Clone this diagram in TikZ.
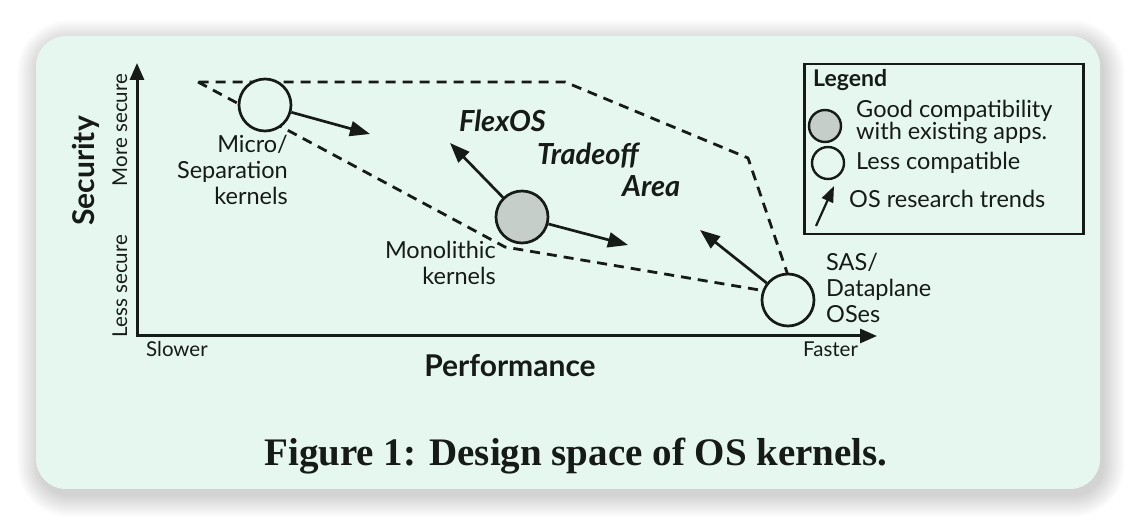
\documentclass[tikz,border=0pt]{standalone}
\usepackage{fontspec}
\setmainfont{Lato}
\newfontfamily\capfont{Liberation Serif}
\usetikzlibrary{arrows.meta}
\definecolor{panel}{HTML}{E6F7EF}
\definecolor{ink}{HTML}{161B18}
\definecolor{gfill}{HTML}{C5CEC8}
\begin{document}
\begin{tikzpicture}[x=1pt,y=-1pt,
  every node/.style={inner sep=0pt, text=ink},
  small/.style={font=\fontsize{20.5}{24}\selectfont},
  mid/.style={font=\fontsize{23.5}{26}\selectfont},
  leg/.style={font=\fontsize{23.5}{20}\selectfont},
  big/.style={font=\fontsize{30}{34}\selectfont\bfseries},
  area/.style={font=\fontsize{29}{32}\selectfont\bfseries\itshape},
  kernel/.style={circle, draw=ink, line width=2.7pt, minimum size=52pt, fill=panel},
  compat/.style={kernel, fill=gfill},
  legcircle/.style={circle, draw=ink, line width=2.4pt, minimum size=32pt, fill=panel},
  region/.style={draw=ink, line width=2.8pt, dash pattern=on 10pt off 7pt},
  axisline/.style={draw=ink, line width=3pt, {Triangle[length=17pt,width=14pt]}-{Triangle[length=17pt,width=14pt]}},
  trend/.style={draw=ink, line width=2.7pt, -{Triangle[length=20pt,width=15pt]}},
  legtrend/.style={draw=ink, line width=2.2pt, -{Triangle[length=16pt,width=12pt]}},
]
\useasboundingbox (0,0) rectangle (1136,526);
\fill[white] (0,0) rectangle (1136,526);
% shadow
\foreach \i in {1,...,22}{
  \pgfmathsetmacro\rr{30+\i}
  \fill[black, opacity=0.006, rounded corners=\rr pt] (36-\i+3,36-\i+6) rectangle (1100+\i+3,489+\i+6);
}
\fill[panel, rounded corners=30pt] (36,36) rectangle (1100,489);

% axes
\coordinate (O) at (137,336);
\coordinate (ytip) at (137,63);
\coordinate (xtip) at (877,336);
\draw[axisline] (ytip) -- (O) -- (xtip);

\node[big, rotate=90, anchor=base] (security) at (94,171) {Security};
\node[small, rotate=90, anchor=base] (more) at (127,130) {More secure};
\node[small, rotate=90, anchor=base] (less) at (127,286) {Less secure};
\node[small, anchor=base west] (slower) at (146,357) {Slower};
\node[small, anchor=base west] (faster) at (803,357) {Faster};
\node[big, anchor=base] (perf) at (510,377) {Performance};

% tradeoff region
\coordinate (pm) at (265,105);
\coordinate (pmono) at (522,217);
\coordinate (psas) at (788,300);
\coordinate (r1) at (198,82);
\coordinate (r2) at (565,82);
\coordinate (r3) at (748,158);
\coordinate (v2) at (505,247);
\coordinate (v3) at (795,296);
\draw[region] (r1) -- (v2) -- (v3) -- (r3) -- (r2) -- cycle;

% kernels
\node[kernel] (micro) at (pm) {};
\node[compat] (mono) at (pmono) {};
\node[kernel] (sas) at (psas) {};

\node[mid, align=right, anchor=base east] (microlbl) at (288,205) {Micro/\\Separation\\kernels};
\node[mid, align=right, anchor=base east] (monolbl) at (496,285) {Monolithic\\kernels};
\node[mid, align=left, anchor=base west] (saslbl) at (826,323) {SAS/\\Dataplane\\OSes};

% trends
\coordinate (t1) at (370,134);
\coordinate (t2) at (450,143);
\coordinate (t3) at (628,245);
\coordinate (t4) at (700,230);
\draw[trend] (micro) -- (t1);
\draw[trend] (mono) -- (t2);
\draw[trend] (mono) -- (t3);
\draw[trend] (sas) -- (t4);

\node[area, anchor=base west] (flex) at (459,132) {FlexOS};
\node[area, anchor=base west] (trade) at (537,165) {Tradeoff};
\node[area, anchor=base west] (areal) at (622,197) {Area};

% legend
\node[draw=ink, line width=2.5pt, fill=panel, minimum width=279pt, minimum height=170pt, anchor=north west] (legend) at (803,63) {};
\node[font=\fontsize{23}{24}\selectfont\bfseries, anchor=base west] (legtitle) at (813,87) {Legend};
\node[legcircle, fill=gfill] (lg1) at (825,126) {};
\node[leg, align=left, anchor=base west] (lgt1) at (856,140) {Good compatibility\\with existing apps.};
\node[legcircle] (lg2) at (828,163) {};
\node[leg, anchor=base west] (lgt2) at (856,170) {Less compatible};
\coordinate (la1) at (816,226);
\coordinate (la2) at (834,186);
\draw[legtrend] (la1) -- (la2);
\node[leg, anchor=base west] (lgt3) at (849,208) {OS research trends};

% caption
\node[font=\fontsize{39}{42}\selectfont\capfont\bfseries, anchor=base] (caption) at (576,466) {Figure 1: Design space of OS kernels.};
\end{tikzpicture}
\end{document}
